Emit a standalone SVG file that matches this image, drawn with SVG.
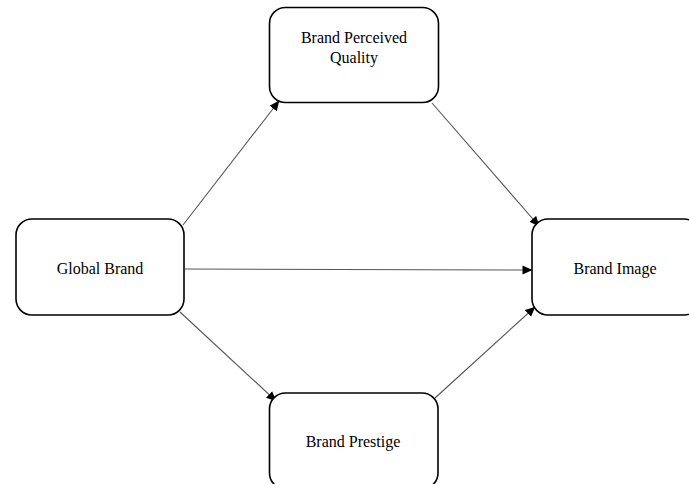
<svg xmlns="http://www.w3.org/2000/svg" width="689" height="484" viewBox="0 0 689 484">
<defs>
<marker id="arr" markerWidth="11" markerHeight="10" refX="9.5" refY="5" orient="auto" markerUnits="userSpaceOnUse">
<path d="M0,0.5 L10,5 L0,9.5 Z" fill="#000"/>
</marker>
</defs>
<style>
.box{fill:#fff;stroke:#000;stroke-width:1.6}
.lbl{font-family:"Liberation Serif","Times New Roman",serif;font-size:16px;fill:#000;text-anchor:middle}
.edge{stroke:#555;stroke-width:1.1;fill:none}
</style>
<rect width="689" height="484" fill="#fff"/>
<g id="connectors">
<line class="edge" x1="183" y1="225" x2="279" y2="101" marker-end="url(#arr)"/>
<line class="edge" x1="432" y1="103" x2="539" y2="226" marker-end="url(#arr)"/>
<line class="edge" x1="185" y1="269" x2="532" y2="270" marker-end="url(#arr)"/>
<line class="edge" x1="180" y1="312" x2="276" y2="401" marker-end="url(#arr)"/>
<line class="edge" x1="435" y1="398" x2="535" y2="307" marker-end="url(#arr)"/>
</g>
<g id="node-quality">
<rect class="box" x="269.5" y="7.5" width="169" height="95" rx="16"/>
<text class="lbl" x="354" y="43">Brand Perceived</text>
<text class="lbl" x="354" y="63">Quality</text>
</g>
<g id="node-global">
<rect class="box" x="16" y="219" width="168" height="96" rx="16"/>
<text class="lbl" x="100" y="274">Global Brand</text>
</g>
<g id="node-image">
<rect class="box" x="532" y="219" width="168" height="96" rx="16"/>
<text class="lbl" x="615" y="274">Brand Image</text>
</g>
<g id="node-prestige">
<rect class="box" x="269.5" y="393" width="168.5" height="96" rx="16"/>
<text class="lbl" x="353" y="447">Brand Prestige</text>
</g>
</svg>
